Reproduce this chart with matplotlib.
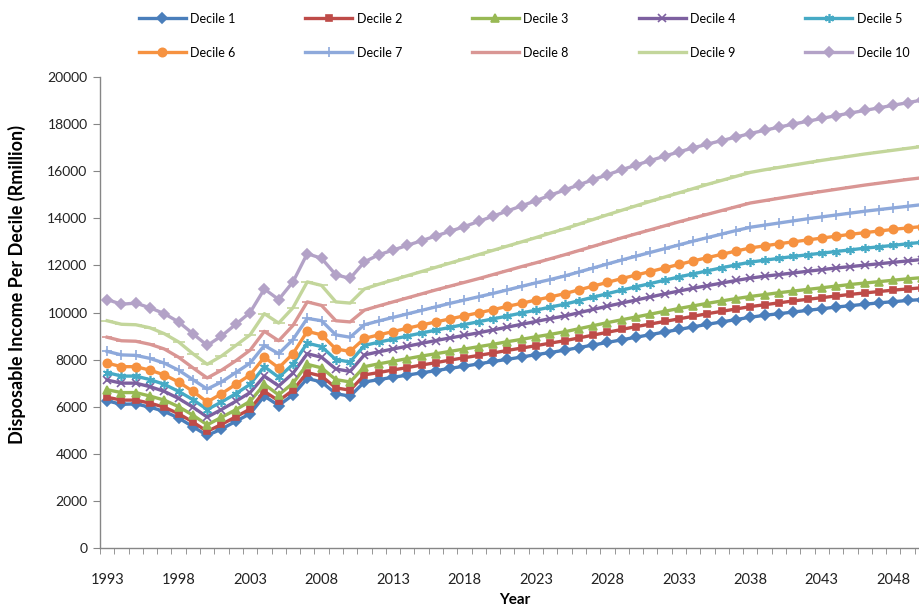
import matplotlib
matplotlib.use("Agg")
import matplotlib.pyplot as plt

plt.rcParams['font.family'] = ['Lato', 'DejaVu Sans']

# years on the category axis
years = list(range(1993, 2051))

# disposable income per decile (R million)
decile_1 = [6250, 6100, 6120, 5980, 5800, 5520, 5150, 4780, 5050, 5380, 5700, 6450, 6050, 6500, 7200, 7050, 6550, 6450,
            7050, 7150, 7250, 7340, 7440, 7530, 7630, 7720, 7820, 7920, 8010, 8110, 8210, 8300, 8400,
            8510, 8620, 8730, 8840, 8950, 9060, 9170, 9280, 9390, 9500, 9600, 9700, 9800,
            9880, 9950, 10020, 10090, 10160, 10230, 10290, 10350, 10410, 10460, 10510, 10550]
decile_2 = [6400, 6280, 6280, 6150, 5980, 5700, 5350, 4950, 5250, 5570, 5900, 6650, 6250, 6700, 7450, 7300, 6800, 6700,
            7350, 7450, 7560, 7660, 7770, 7870, 7980, 8080, 8180, 8280, 8390, 8490, 8590, 8700, 8800,
            8920, 9040, 9160, 9280, 9400, 9510, 9620, 9730, 9840, 9950, 10050, 10150, 10250,
            10330, 10410, 10490, 10560, 10630, 10700, 10770, 10830, 10890, 10950, 11000, 11050]
decile_3 = [6720, 6600, 6600, 6450, 6280, 6000, 5640, 5230, 5550, 5870, 6230, 6950, 6500, 7000, 7800, 7650, 7150, 7050,
            7700, 7820, 7930, 8040, 8150, 8250, 8350, 8450, 8550, 8650, 8760, 8860, 8970, 9070, 9180,
            9310, 9440, 9570, 9690, 9810, 9930, 10050, 10170, 10280, 10390, 10490, 10590, 10680,
            10760, 10840, 10910, 10980, 11050, 11120, 11190, 11250, 11310, 11370, 11430, 11480]
decile_4 = [7130, 7000, 7000, 6850, 6650, 6350, 5980, 5560, 5880, 6230, 6600, 7300, 6880, 7420, 8250, 8100, 7600, 7500,
            8200, 8330, 8450, 8570, 8690, 8810, 8920, 9030, 9140, 9260, 9380, 9500, 9620, 9740, 9850,
            9990, 10130, 10270, 10400, 10530, 10660, 10790, 10910, 11030, 11140, 11250, 11360, 11460,
            11540, 11610, 11680, 11750, 11820, 11890, 11950, 12010, 12070, 12130, 12190, 12250]
decile_5 = [7450, 7300, 7300, 7150, 6950, 6650, 6300, 5880, 6200, 6550, 6950, 7700, 7250, 7800, 8700, 8550, 8000, 7900,
            8600, 8740, 8870, 9000, 9130, 9250, 9370, 9490, 9610, 9730, 9850, 9980, 10100, 10230, 10350,
            10500, 10650, 10800, 10950, 11090, 11230, 11370, 11510, 11640, 11770, 11900, 12020, 12140,
            12220, 12300, 12380, 12450, 12520, 12590, 12660, 12730, 12790, 12850, 12920, 12980]
decile_6 = [7850, 7700, 7700, 7550, 7350, 7050, 6650, 6200, 6550, 6950, 7350, 8100, 7650, 8250, 9200, 9050, 8450, 8350,
            8900, 9050, 9190, 9330, 9470, 9600, 9730, 9860, 9990, 10120, 10260, 10390, 10530, 10660, 10800,
            10960, 11120, 11280, 11440, 11590, 11740, 11890, 12040, 12190, 12330, 12470, 12610, 12740,
            12830, 12920, 13000, 13080, 13160, 13240, 13320, 13390, 13460, 13530, 13590, 13650]
decile_7 = [8350, 8200, 8180, 8050, 7850, 7550, 7150, 6750, 7050, 7450, 7850, 8600, 8250, 8850, 9750, 9650, 9050, 8950,
            9480, 9640, 9790, 9940, 10090, 10240, 10390, 10530, 10670, 10810, 10960, 11110, 11260, 11400, 11550,
            11720, 11890, 12060, 12230, 12390, 12550, 12710, 12870, 13030, 13180, 13330, 13480, 13620,
            13710, 13800, 13890, 13980, 14060, 14140, 14220, 14300, 14370, 14440, 14510, 14580]
decile_8 = [8950, 8800, 8780, 8650, 8450, 8100, 7650, 7220, 7550, 7950, 8400, 9200, 8800, 9450, 10450, 10300, 9650, 9600,
            10100, 10280, 10450, 10620, 10790, 10960, 11120, 11280, 11440, 11610, 11780, 11950, 12110, 12280, 12450,
            12630, 12810, 12990, 13170, 13340, 13510, 13680, 13850, 14010, 14170, 14330, 14490, 14650,
            14750, 14850, 14950, 15050, 15140, 15230, 15320, 15410, 15490, 15570, 15650, 15720]
decile_9 = [9650, 9500, 9480, 9350, 9100, 8750, 8250, 7800, 8150, 8600, 9050, 9950, 9550, 10200, 11300, 11150, 10450, 10400,
            11000, 11200, 11380, 11560, 11740, 11920, 12100, 12280, 12460, 12640, 12820, 13000, 13180, 13370, 13550,
            13750, 13950, 14150, 14340, 14530, 14720, 14900, 15080, 15260, 15440, 15610, 15780, 15950,
            16060, 16160, 16260, 16360, 16460, 16550, 16640, 16730, 16810, 16890, 16970, 17050]
decile_10 = [10550, 10350, 10400, 10200, 9950, 9600, 9100, 8600, 9000, 9500, 10000, 11000, 10550, 11300, 12500, 12300, 11600, 11450,
             12150, 12450, 12650, 12850, 13050, 13250, 13450, 13650, 13870, 14090, 14310, 14530, 14750, 14980, 15200,
             15420, 15640, 15850, 16060, 16260, 16450, 16640, 16820, 16990, 17150, 17300, 17450, 17600,
             17740, 17870, 18000, 18120, 18240, 18360, 18470, 18580, 18690, 18800, 18910, 19020]

series = [decile_1, decile_2, decile_3, decile_4, decile_5,
          decile_6, decile_7, decile_8, decile_9, decile_10]
labels = ["Decile %d" % i for i in range(1, 11)]
tick_years = list(range(1993, 2049, 5))

# excel 2007 default look
colors = ["#4A7EBB", "#BE4B48", "#98B954", "#7D60A0", "#46AAC5",
          "#F69240", "#8EA9DB", "#D99694", "#C3D69B", "#B3A2C7"]
markers = ["D", "s", "^", "x", (6, 2, 0), "o", "+", "_", "_", "D"]
msizes = [5, 4.5, 5.5, 5.5, 6.5, 6, 7.5, 7, 9, 5]

fig = plt.figure(figsize=(9.19, 6.09), dpi=100)
ax = fig.add_axes([100 / 919, 61 / 609, 829 / 919, 471 / 609])

handles = []
for vals, lab, c, m, ms in zip(series, labels, colors, markers, msizes):
    ln, = ax.plot(years, vals, color=c, lw=2.4, marker=m, markersize=ms,
                  markerfacecolor=c, markeredgecolor=c, markeredgewidth=1.2,
                  label=lab, solid_joinstyle="round")
    handles.append(ln)

ax.set_xlim(1992.5, 2050.5)
ax.set_ylim(0, 20000)
ax.set_yticks(range(0, 20001, 2000))
ax.set_xticks(tick_years)
ax.set_xticks([y + 0.5 for y in range(1992, 2051)], minor=True)
ax.tick_params(axis="x", which="major", length=0, pad=18, labelsize=10.5, colors="#222222")
ax.tick_params(axis="x", which="minor", length=4, color="#868686", direction="out")
ax.tick_params(axis="y", length=5, color="#868686", direction="out", pad=4, labelsize=10, labelcolor="#222222")

for s in ["top", "right"]:
    ax.spines[s].set_visible(False)
for s in ["left", "bottom"]:
    ax.spines[s].set_color("#868686")
    ax.spines[s].set_linewidth(1.0)

ax.set_xlabel("Year", fontsize=11, fontweight="bold", labelpad=4)
ax.set_ylabel("Disposable Income Per Decile (Rmillion)", fontsize=13, fontweight="bold")
ax.yaxis.set_label_coords(-74 / 829, 0.56)

# legend filled row by row: 5 columns, 2 rows
order = [0, 5, 1, 6, 2, 7, 3, 8, 4, 9]
fig.legend([handles[i] for i in order], [labels[i] for i in order], ncol=5,
           loc="upper left", bbox_to_anchor=(130 / 919, 1 - 4 / 609), frameon=False,
           fontsize=9, handlelength=3.75, handletextpad=0.35,
           columnspacing=5.6, labelspacing=1.75, borderaxespad=0.3)

fig.savefig("out.png", dpi=100)
